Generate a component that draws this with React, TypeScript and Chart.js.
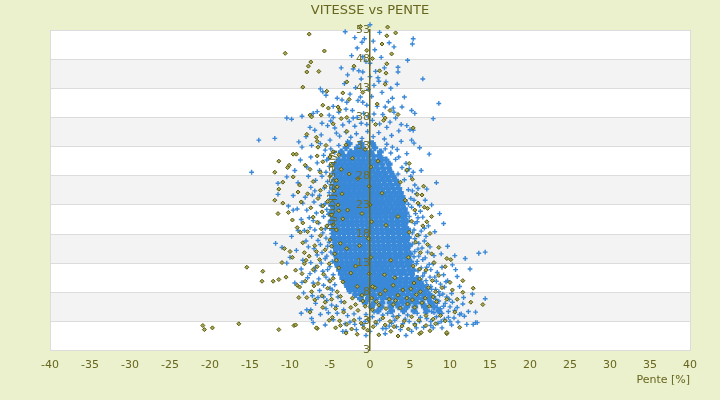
import { useEffect, useRef } from "react";
import Chart from "chart.js/auto";

const OLIVE = "#66661e";
const BLUE = "#3a88d8";

const xTicks = [-40, 40, 5]; // min, max, step
const yRange = [-2, 53, 5];
const yTickLabels = ["3", "3", "8", "13", "18", "23", "28", "33", "38", "43", "48", "53"];

// dense blue core, read row by row: [speed, [slopes...]]
const blueCoreRows: [number, number[]][] = [
  [33.5, [-2.6, -1.1, 0.3]],
  [32.8, [-3.0, -1.6, -0.9, 0.6]],
  [32.1, [-3.6, -2.4, -1.8, -1.2, -0.6, 0.1, 1.3]],
  [31.4, [-3.3, -2.7, -2.1, -1.5, -0.9, -0.3, 0.4, 1.1]],
  [30.7, [-3.9, -3.2, -2.6, -2.0, -1.4, -0.8, -0.2, 0.5, 1.3, 2.0]],
  [30.0, [-4.3, -3.6, -3.0, -2.4, -1.8, -1.2, -0.6, 0.1, 0.7, 1.5, 2.4]],
  [29.3, [-4.0, -3.4, -2.8, -2.2, -1.6, -1.0, -0.4, 0.2, 0.9, 1.6, 2.3]],
  [28.6, [-4.4, -3.7, -3.1, -2.5, -1.9, -1.3, -0.7, -0.1, 0.5, 1.1, 1.8, 2.6]],
  [27.9, [-4.1, -3.5, -2.9, -2.3, -1.7, -1.1, -0.5, 0.1, 0.8, 1.4, 2.1, 2.9]],
  [27.2, [-4.5, -3.8, -3.2, -2.6, -2.0, -1.4, -0.8, -0.2, 0.4, 1.0, 1.7, 2.4, 3.2]],
  [26.5, [-4.2, -3.6, -3.0, -2.4, -1.8, -1.2, -0.6, 0.0, 0.6, 1.2, 1.9, 2.6, 3.4]],
  [25.8, [-4.6, -3.9, -3.3, -2.7, -2.1, -1.5, -0.9, -0.3, 0.3, 0.9, 1.5, 2.2, 2.9, 3.6]],
  [25.1, [-4.3, -3.7, -3.1, -2.5, -1.9, -1.3, -0.7, -0.1, 0.5, 1.1, 1.7, 2.4, 3.1, 3.8]],
  [24.4, [-4.7, -4.0, -3.4, -2.8, -2.2, -1.6, -1.0, -0.4, 0.2, 0.8, 1.4, 2.0, 2.7, 3.4, 4.0]],
  [23.7, [-4.4, -3.8, -3.2, -2.6, -2.0, -1.4, -0.8, -0.2, 0.4, 1.0, 1.6, 2.3, 3.0, 3.7, 4.3]],
  [23.0, [-4.8, -4.1, -3.5, -2.9, -2.3, -1.7, -1.1, -0.5, 0.1, 0.7, 1.3, 1.9, 2.6, 3.3, 4.0]],
  [22.3, [-4.5, -3.9, -3.3, -2.7, -2.1, -1.5, -0.9, -0.3, 0.3, 0.9, 1.5, 2.2, 2.9, 3.6, 4.3]],
  [21.6, [-4.9, -4.2, -3.6, -3.0, -2.4, -1.8, -1.2, -0.6, 0.0, 0.6, 1.2, 1.8, 2.5, 3.2, 3.9, 4.5]],
  [20.9, [-4.6, -4.0, -3.4, -2.8, -2.2, -1.6, -1.0, -0.4, 0.2, 0.8, 1.4, 2.1, 2.8, 3.5, 4.2]],
  [20.2, [-4.8, -4.1, -3.5, -2.9, -2.3, -1.7, -1.1, -0.5, 0.1, 0.7, 1.3, 1.9, 2.6, 3.3, 4.0, 4.6]],
  [19.5, [-4.5, -3.9, -3.3, -2.7, -2.1, -1.5, -0.9, -0.3, 0.3, 0.9, 1.5, 2.2, 2.9, 3.6, 4.3]],
  [18.8, [-4.7, -4.0, -3.4, -2.8, -2.2, -1.6, -1.0, -0.4, 0.2, 0.8, 1.4, 2.0, 2.7, 3.4, 4.1, 4.7]],
  [18.1, [-4.4, -3.8, -3.2, -2.6, -2.0, -1.4, -0.8, -0.2, 0.4, 1.0, 1.6, 2.3, 3.0, 3.7, 4.4]],
  [17.4, [-4.6, -3.9, -3.3, -2.7, -2.1, -1.5, -0.9, -0.3, 0.3, 0.9, 1.5, 2.1, 2.8, 3.5, 4.2, 4.8]],
  [16.7, [-4.3, -3.7, -3.1, -2.5, -1.9, -1.3, -0.7, -0.1, 0.5, 1.1, 1.7, 2.4, 3.1, 3.8, 4.5]],
  [16.0, [-4.5, -3.8, -3.2, -2.6, -2.0, -1.4, -0.8, -0.2, 0.4, 1.0, 1.6, 2.2, 2.9, 3.6, 4.3, 4.9]],
  [15.3, [-4.2, -3.6, -3.0, -2.4, -1.8, -1.2, -0.6, 0.0, 0.6, 1.2, 1.8, 2.5, 3.2, 3.9, 4.6]],
  [14.6, [-4.4, -3.7, -3.1, -2.5, -1.9, -1.3, -0.7, -0.1, 0.5, 1.1, 1.7, 2.3, 3.0, 3.7, 4.4, 5.0]],
  [13.9, [-4.1, -3.5, -2.9, -2.3, -1.7, -1.1, -0.5, 0.1, 0.7, 1.3, 1.9, 2.6, 3.3, 4.0, 4.7]],
  [13.2, [-4.3, -3.6, -3.0, -2.4, -1.8, -1.2, -0.6, 0.0, 0.6, 1.2, 1.8, 2.4, 3.1, 3.8, 4.5, 5.1]],
  [12.5, [-4.0, -3.4, -2.8, -2.2, -1.6, -1.0, -0.4, 0.2, 0.8, 1.4, 2.0, 2.7, 3.4, 4.1, 4.8]],
  [11.8, [-3.8, -3.2, -2.6, -2.0, -1.4, -0.8, -0.2, 0.4, 1.0, 1.6, 2.2, 2.8, 3.5, 4.2, 4.9, 5.4]],
  [11.1, [-3.6, -3.0, -2.4, -1.8, -1.2, -0.6, 0.0, 0.6, 1.2, 1.8, 2.4, 3.1, 3.8, 4.5, 5.2]],
  [10.4, [-3.4, -2.8, -2.2, -1.6, -1.0, -0.4, 0.2, 0.8, 1.4, 2.0, 2.6, 3.2, 3.9, 4.6, 5.3, 5.9]],
  [9.7, [-3.1, -2.5, -1.9, -1.3, -0.7, -0.1, 0.5, 1.1, 1.7, 2.3, 2.9, 3.6, 4.3, 5.0, 5.7, 6.3]],
  [9.0, [-2.8, -2.2, -1.6, -1.0, -0.4, 0.2, 0.8, 1.4, 2.0, 2.6, 3.2, 3.9, 4.6, 5.3, 6.0, 6.6]],
  [8.3, [-2.5, -1.9, -1.3, -0.7, -0.1, 0.5, 1.1, 1.7, 2.3, 2.9, 3.5, 4.2, 4.9, 5.6, 6.3, 7.0]],
  [7.6, [-1.8, -1.0, -0.3, 0.4, 1.2, 1.9, 2.6, 3.3, 4.0, 4.7, 5.4, 6.1, 6.8, 7.4]],
  [6.9, [-1.2, -0.2, 0.7, 1.6, 2.4, 3.1, 3.8, 4.5, 5.2, 5.9, 6.6, 7.3]],
  [6.2, [-0.6, 0.5, 1.5, 2.5, 3.3, 4.1, 4.9, 5.7, 6.5, 7.6]],
  [5.5, [0.2, 1.4, 2.6, 3.6, 4.6, 5.6, 6.8, 8.0]],
  [4.8, [1.0, 2.7, 4.2, 5.5, 7.1, 8.6]],
];

// scattered blue points around the core: [slope, speed]
const blueScatter: [number, number][] = [
  [-3.1, 54.9], [-2.0, 55.4], [0, 53.9], [1.6, 55.1], [2.2, 54.2], [-3.1, 52.7], [5.4, 51.5], [5.3, 50.6],
  [-1.0, 50.9], [-0.7, 51.5], [0.4, 51.1], [-1.6, 49.9], [0, 47.3], [-3.6, 46.5], [-2.1, 46.3], [-1.4, 46.0],
  [-0.9, 45.8], [1.0, 44.8], [1.1, 44.2], [2.0, 44.1], [3.5, 46.6], [3.5, 45.8], [3.4, 43.7], [0.5, 43.5],
  [-6.2, 42.9], [-5.9, 42.4], [-5.5, 41.8], [-4.1, 41.3], [-1.2, 41.5], [-0.9, 40.6], [2.8, 41.3], [4.3, 41.5],
  [-0.4, 40.1], [0.9, 39.9], [-2.2, 39.2], [-1.6, 38.0], [0.5, 38.6], [4.0, 39.8], [5.2, 39.2], [5.6, 38.7],
  [-10.4, 37.9], [-9.8, 37.7], [-8.5, 38.2], [-7.5, 36.3], [-6.0, 37.0], [-4.6, 38.0], [2.5, 37.2], [2.1, 36.3],
  [-2.9, 40.6], [-4.6, 39.9], [-7.1, 38.7], [-5.1, 38.4], [-4.2, 35.3], [-13.9, 34.1], [-11.9, 34.4], [-14.8, 28.6],
  [-8.5, 32.9], [-7.4, 31.2], [-8.7, 30.7], [-9.4, 28.9], [-10.4, 27.8], [-11.5, 26.7], [-11.5, 24.8], [-10.2, 22.8],
  [-9.6, 22.1], [-9.1, 22.3], [-8.4, 23.3], [-7.5, 19.1], [-9.0, 18.6], [-11.8, 16.4], [-11.0, 15.7], [-10.4, 13.0],
  [-10.0, 14.0], [-8.4, 13.5], [-8.5, 9.7], [-7.5, 11.2], [-6.5, 7.1], [-7.9, 5.0], [-7.4, 5.0], [-7.3, 3.5],
  [-7.1, 2.8], [-5.4, 6.6], [-5.0, 8.7], [-5.5, 10.6], [-6.8, 12.3], [-6.0, 14.8], [-6.5, 16.9], [-7.1, 20.3],
  [-7.4, 26.0], [-6.8, 27.2], [-6.3, 28.9], [-5.4, 30.7], [-5.6, 32.4], [-5.0, 34.1], [-3.4, 1.3], [-3.0, 1.3],
  [-3.1, 2.6], [-4.1, 4.4], [-5.2, 4.5],
  [-6.2, 33.5], [-5.8, 31.5], [-6.6, 30.2], [-5.1, 29.6], [-6.0, 27.9], [-5.3, 27.0], [-6.9, 25.4], [-5.7, 25.9],
  [-6.3, 24.6], [-5.0, 24.0], [-7.0, 23.5], [-6.1, 22.9], [-5.4, 22.2], [-6.7, 21.6], [-5.8, 21.0], [-7.6, 20.8],
  [-6.4, 19.9], [-5.2, 19.6], [-6.9, 18.7], [-5.9, 18.2], [-7.3, 17.6], [-5.5, 17.3], [-6.2, 16.2], [-7.0, 15.5],
  [-5.3, 15.9], [-6.6, 14.4], [-5.6, 13.8], [-7.4, 13.1], [-6.1, 13.0], [-5.0, 12.4], [-6.9, 11.7], [-5.9, 11.6],
  [-6.4, 10.3], [-7.1, 9.6], [-5.8, 9.2], [-6.3, 8.3], [-4.9, 7.6], [-5.8, 7.2], [-6.8, 6.1], [-4.8, 5.8],
  [-5.5, 5.2], [-6.2, 4.2], [-4.6, 3.3], [-5.6, 2.4], [-8.1, 24.3], [-8.6, 20.5], [-8.0, 16.8], [-9.2, 15.2],
  [-7.8, 10.5], [-8.3, 7.9], [-9.0, 26.8], [-7.9, 29.5], [-8.0, 34.7], [-6.9, 35.8], [-5.3, 36.6], [-6.6, 39.0],
  [-3.8, 34.8], [-3.0, 35.5], [-2.4, 34.6], [-1.7, 35.2], [-1.0, 34.4], [-0.3, 35.6], [0.4, 34.7], [1.1, 35.4],
  [1.8, 34.3], [2.7, 34.9], [3.6, 35.7], [-3.4, 36.7], [-2.6, 37.3], [-1.9, 36.5], [-1.1, 37.0], [-0.4, 36.8],
  [0.3, 37.5], [1.2, 36.9], [3.2, 37.9], [-3.9, 38.9], [-3.0, 39.4], [-0.8, 38.7], [1.6, 38.5], [3.0, 38.9],
  [-2.5, 42.0], [-1.8, 43.1], [-0.2, 42.8], [1.5, 42.3], [2.6, 43.0], [-3.2, 43.8], [-1.1, 44.6], [0.7, 45.9],
  [-0.5, 47.6], [1.4, 48.3], [-2.3, 48.6], [2.9, 39.6], [4.6, 36.6], [-4.4, 36.2], [0.0, 33.8], [-2.8, 33.9],
  [3.9, 33.9], [2.8, 32.9], [2.1, 33.4], [3.4, 32.5], [3.6, 31.2], [4.5, 30.1], [5.1, 27.9], [4.6, 28.8],
  [7.1, 25.7], [6.9, 23.8], [8.7, 21.5], [6.0, 20.8], [6.6, 20.9], [5.6, 19.8], [6.4, 18.5], [6.1, 16.4],
  [10.6, 14.3], [11.9, 13.8], [13.6, 14.7], [14.4, 14.9], [10.7, 11.9], [10.9, 10.7], [9.0, 12.3], [9.7, 10.0],
  [10.2, 7.8], [11.7, 7.1], [14.4, 6.9], [10.9, 5.4], [11.2, 4.2], [12.1, 2.5], [12.9, 2.5], [13.2, 2.8],
  [9.0, 1.9], [7.6, 2.3], [7.1, 3.5], [8.4, 6.1], [8.7, 7.5], [7.7, 8.5], [7.5, 10.6], [7.1, 12.3],
  [6.6, 13.6], [7.2, 14.9], [5.2, 34.1], [5.5, 33.6], [5.4, 35.8], [5.0, 35.9], [11.4, 4.3], [13.4, 2.8],
  [3.2, 30.8], [4.0, 29.4], [3.5, 28.3], [4.3, 27.3], [5.6, 26.4], [4.8, 25.6], [5.8, 24.9], [5.1, 24.1],
  [6.2, 22.9], [5.2, 22.6], [5.7, 21.5], [7.3, 19.4], [5.5, 18.7], [7.0, 17.6], [5.6, 17.2], [6.5, 15.6],
  [5.6, 15.0], [8.0, 14.3], [6.1, 14.2], [5.8, 12.9], [7.9, 12.9], [6.4, 12.2], [8.4, 11.4], [6.8, 11.3],
  [9.2, 11.0], [6.3, 10.2], [8.3, 9.9], [7.1, 9.3], [9.3, 8.9], [8.2, 8.5], [6.7, 7.9], [9.6, 7.2],
  [8.0, 7.3], [7.9, 6.2], [9.4, 6.1], [10.3, 6.3], [7.0, 5.7], [8.8, 5.2], [9.8, 4.7], [8.0, 4.5],
  [10.5, 3.6], [9.3, 3.4], [6.3, 3.7], [7.6, 3.0], [8.5, 2.7], [10.2, 2.4], [6.7, 2.0], [11.0, 2.9],
  [1.6, 1.8], [2.0, 1.8], [1.2, 3.2], [4.1, 2.6], [5.6, 2.6], [3.1, 3.2], [-2.0, 4.3], [-1.3, 3.5],
  [-0.5, 4.2], [0.3, 3.8], [2.2, 4.4], [3.6, 4.0], [4.7, 4.1], [5.9, 4.4], [-2.5, 2.9], [-0.9, 2.4],
  [0.0, 1.3], [2.7, 2.7], [3.8, 1.6], [5.2, 1.3], [6.2, 3.0], [-1.7, 1.6], [0.8, 2.6], [4.4, 3.4],
  [-4.9, 32.6], [-5.2, 31.0], [-4.7, 28.4], [-5.5, 28.6], [-4.9, 26.5], [-5.1, 25.1], [-5.6, 23.2], [-4.9, 22.8],
  [-5.2, 21.4], [-5.0, 20.2], [-5.6, 18.9], [-4.8, 18.1], [-5.1, 16.6], [-4.9, 14.9], [-5.4, 14.2], [-4.7, 13.3],
  [-5.3, 11.9], [-4.6, 11.0], [-5.1, 10.1], [-4.4, 9.3], [-4.7, 8.4], [-4.0, 7.2], [-3.6, 6.4], [-4.2, 5.6],
  [-3.3, 5.0], [-7.7, 27.9], [-7.2, 24.7], [-7.9, 22.1], [-8.2, 18.6], [-7.7, 15.8], [-8.6, 12.0], [-7.2, 7.4],
  [-8.6, 4.4], [-9.4, 9.6], [-9.8, 17.6], [-9.6, 24.6], [-8.9, 33.8], [-6.1, 35.0], [-7.3, 33.2],
  [4.6, 31.8], [4.9, 29.2], [5.4, 28.6], [5.3, 25.4], [6.0, 25.8], [5.5, 23.8], [4.8, 23.1], [6.3, 21.9],
  [4.9, 21.0], [5.9, 20.1], [6.8, 19.0], [5.3, 18.2], [6.1, 17.8], [6.8, 16.8], [5.3, 16.3], [6.0, 15.4],
  [7.5, 15.8], [5.5, 14.1], [6.9, 13.9], [5.9, 13.3], [7.4, 12.8], [6.0, 11.7], [7.6, 11.9], [6.6, 10.8],
  [8.1, 10.6], [7.0, 10.0], [8.8, 9.4], [7.6, 9.0], [6.2, 8.9], [8.6, 8.1], [7.5, 7.6], [9.1, 7.7],
  [8.2, 6.8], [9.9, 6.8], [8.6, 6.5], [7.5, 6.5], [9.2, 5.6], [8.4, 5.4], [10.0, 5.5], [7.7, 4.7],
  [9.0, 4.4], [10.6, 4.9], [8.3, 3.8], [9.8, 3.7], [11.8, 3.9], [8.9, 3.0], [10.0, 3.0], [12.3, 4.7],
  [11.6, 6.0], [12.8, 7.7], [13.2, 4.6], [9.5, 9.8], [10.3, 12.7], [11.2, 9.0], [12.5, 12.0], [8.9, 14.6],
  [9.7, 15.9], [8.1, 18.4], [9.2, 19.8], [7.7, 23.0], [8.3, 26.8], [6.4, 28.9], [7.4, 31.7], [6.2, 32.8],
  [7.9, 37.8], [8.6, 40.4], [6.6, 44.6], [4.7, 47.8], [3.0, 50.1],
  [-2.1, 37.9], [-0.2, 38.1], [1.9, 39.8], [-1.5, 40.9], [0.2, 41.6], [2.3, 40.7], [-3.5, 41.0], [-2.8, 45.3],
  [0.0, 45.0], [1.8, 46.5], [-0.9, 48.4], [0.6, 49.6], [-1.9, 51.7], [1.2, 52.6], [-0.3, 54.6], [3.9, 36.8],
  [-4.9, 37.4], [2.4, 50.8],
  [-2.8, 4.0], [-1.9, 2.5], [-0.6, 3.0], [0.5, 4.6], [1.6, 4.1], [2.9, 3.9], [3.3, 2.1], [4.9, 3.0],
  [5.8, 1.9], [6.9, 4.5], [7.9, 1.9], [1.9, 0.9], [-0.5, 0.6], [4.5, 0.6], [2.4, 2.2],
  [-3.9, 33.2], [1.9, 32.6], [2.6, 31.9], [-4.4, 32.0], [1.6, 31.1],
];

// olive series: [slope, speed]
const olivePoints: [number, number][] = [
  [0.9, 57.0], [2.6, 55.4], [0.9, 54.2], [2.2, 53.5], [3.2, 52.5], [-7.6, 52.3], [-10.6, 49.0], [-5.7, 49.4],
  [2.1, 52.0], [2.7, 48.9], [-7.4, 47.5], [-7.7, 46.8], [-7.9, 45.8], [-8.4, 43.2], [-2.9, 44.1], [1.2, 46.0],
  [2.1, 47.2], [2.0, 45.6], [1.9, 43.7], [-5.4, 42.5], [-3.4, 42.2], [-2.6, 41.1], [-0.9, 42.3], [-5.9, 40.1],
  [-4.0, 39.8], [-3.8, 39.3], [-2.9, 38.0], [2.5, 39.2], [1.9, 37.9], [5.4, 36.2], [-7.5, 38.4], [-7.3, 38.1],
  [0.9, 40.3], [1.7, 37.5], [-5.2, 39.6], [-0.4, 49.5], [1.5, 50.6], [-1.2, 53.6], [0.3, 48.1],
  [-7.9, 35.1], [-6.7, 34.6], [-6.6, 33.9], [-6.5, 32.9], [-9.6, 31.7], [-9.2, 31.7], [-11.4, 30.5], [-10.1, 29.8],
  [-10.3, 29.4], [-11.9, 28.6], [-9.6, 27.8], [-10.9, 26.9], [-11.4, 25.7], [-11.9, 23.8], [-10.9, 23.3], [-11.5, 21.5],
  [-10.2, 21.7], [-9.0, 25.2], [-8.8, 26.4], [-9.1, 19.1], [-8.7, 18.3], [-10.7, 15.5], [-10.0, 15.0], [-9.7, 14.0],
  [-11.0, 13.1], [-15.4, 12.3], [-13.4, 11.6], [-13.5, 9.9], [-12.1, 9.9], [-11.4, 10.2], [-10.5, 10.6], [-9.1, 9.2],
  [-8.8, 8.9], [-8.9, 7.1], [-7.9, 7.1], [-8.0, 13.5], [-8.2, 12.9], [-16.4, 2.6], [-11.4, 1.6], [-9.5, 2.3],
  [-9.3, 2.4], [-5.9, 5.4], [-6.6, 1.8], [-4.7, 3.7], [-20.9, 2.3], [-20.7, 1.6], [-19.7, 1.9], [-6.7, 1.9],
  [-3.7, 2.3],
  [-5.5, 33.2], [-4.6, 32.1], [-3.9, 31.6], [-5.9, 30.4], [-4.8, 29.8], [-3.6, 29.1], [-6.2, 28.6], [-5.0, 27.9],
  [-4.2, 27.2], [-7.1, 27.0], [-5.6, 26.2], [-4.5, 25.4], [-3.5, 24.9], [-6.5, 24.1], [-5.3, 23.6], [-4.0, 23.0],
  [-7.4, 22.5], [-6.0, 21.8], [-4.8, 21.3], [-3.4, 20.6], [-6.6, 20.0], [-5.4, 19.4], [-4.2, 18.7], [-7.8, 18.4],
  [-6.2, 17.7], [-5.0, 17.0], [-3.7, 16.4], [-6.9, 16.0], [-5.6, 15.3], [-4.4, 14.6], [-7.6, 14.2], [-6.3, 13.6],
  [-5.1, 12.9], [-3.9, 12.2], [-7.1, 11.9], [-5.8, 11.1], [-4.6, 10.4], [-3.4, 9.8], [-6.5, 9.5], [-5.3, 8.7],
  [-4.1, 8.1], [-7.3, 8.1], [-6.0, 7.4], [-4.8, 6.8], [-3.2, 6.3], [-2.6, 28.3], [-2.8, 22.1], [-2.9, 15.5],
  [-2.4, 11.3], [-3.0, 33.3], [-2.2, 31.0], [-9.7, 20.4], [-8.4, 16.5], [-9.3, 11.8], [-8.6, 23.5], [-8.1, 29.8],
  [-4.3, 5.2], [-3.3, 4.6], [-2.4, 5.4], [-1.5, 4.9], [-0.6, 5.6], [0.3, 5.0], [1.1, 5.8], [2.0, 5.2],
  [2.9, 5.9], [3.8, 5.3], [4.7, 6.0], [5.6, 5.4], [6.5, 6.2], [7.4, 5.6], [8.3, 6.4], [-3.8, 3.1],
  [-2.9, 2.5], [-2.0, 3.2], [-1.1, 2.7], [-0.2, 3.4], [0.7, 2.9], [1.6, 3.6], [2.5, 3.0], [3.4, 3.7],
  [4.3, 3.1], [5.2, 3.8], [6.1, 3.2], [7.0, 4.0], [7.9, 3.4], [8.8, 4.0], [-3.0, 1.0], [-1.6, 0.8],
  [-0.3, 1.5], [1.1, 0.7], [2.6, 1.3], [3.5, 0.5], [4.8, 1.7], [6.2, 0.9], [7.5, 1.4], [9.6, 0.9],
  [6.4, 1.1], [-2.2, 7.0], [-1.0, 7.5], [0.2, 7.0], [1.3, 7.7], [2.4, 6.8], [3.5, 7.5], [4.6, 7.0],
  [5.8, 7.6], [6.9, 7.0], [-1.6, 9.0], [0.6, 8.8], [2.9, 9.2], [5.1, 8.6], [7.3, 8.8], [9.0, 8.8],
  [11.6, 8.0], [12.6, 6.3], [14.1, 5.9], [10.9, 6.8], [9.6, 1.1], [10.6, 4.6], [11.6, 10.0], [10.0, 9.7],
  [4.9, 30.1], [4.6, 29.0], [6.7, 26.2], [6.0, 23.3], [7.2, 22.4], [7.7, 21.0], [6.8, 22.6], [7.5, 18.1],
  [8.6, 15.7], [9.6, 13.8], [10.1, 13.6], [5.3, 27.4], [5.9, 24.8], [5.2, 20.2], [6.6, 19.4], [5.7, 16.6],
  [7.2, 16.2], [6.3, 14.8], [8.0, 13.1], [5.4, 12.5], [7.0, 11.8], [8.6, 10.9], [6.2, 10.3], [7.8, 10.0],
  [5.5, 9.6], [9.4, 12.4], [4.8, 14.0], [4.9, 18.3], [4.4, 23.8], [3.8, 26.9],
  [0.1, 29.5], [-0.1, 26.2], [0.0, 23.0], [0.2, 20.1], [-0.2, 17.2], [0.1, 14.0], [-0.1, 11.2], [0.3, 9.0],
  [-1.5, 27.5], [-1.0, 21.5], [-1.3, 16.0], [-1.8, 12.5], [1.5, 25.0], [2.0, 19.5], [2.6, 13.5], [3.1, 10.5],
  [1.0, 30.5], [3.5, 21.0], [-0.6, 32.5], [1.8, 11.0],
  [-6.6, 31.4], [-5.0, 31.2], [-7.5, 29.1], [-4.1, 26.1], [-6.2, 25.5], [-7.8, 24.9], [-3.9, 22.0], [-5.9, 22.8],
  [-7.1, 20.9], [-4.6, 19.6], [-6.1, 18.9], [-8.4, 19.9], [-4.8, 15.9], [-6.7, 15.0], [-8.2, 14.8], [-4.2, 13.5],
  [-6.6, 12.4], [-8.5, 11.2], [-5.0, 9.9], [-7.0, 9.1], [-8.1, 9.9], [-3.7, 7.3], [-5.6, 6.3], [-6.9, 6.7],
  [-7.5, 4.6], [-5.1, 3.2], [-4.3, 1.9], [-2.3, 1.7], [-0.8, 1.9], [0.4, 2.1], [1.9, 2.4], [3.0, 2.1],
  [4.0, 2.2], [5.6, 2.4], [7.0, 2.3], [8.2, 2.6], [-1.8, 5.9], [0.8, 6.4], [3.2, 6.6], [5.3, 6.7],
  [7.9, 7.2], [-0.9, 6.5], [1.9, 8.3], [4.1, 8.4], [6.3, 8.1], [8.2, 8.1], [9.6, 6.8], [10.3, 8.4],
  [9.4, 3.1], [11.2, 2.0], [12.9, 8.7], [6.2, 12.0], [7.7, 14.6], [5.9, 17.8], [7.1, 20.1], [5.6, 22.1],
  [6.5, 24.7], [-2.9, 35.6], [-4.6, 36.9], [-6.1, 38.4], [-3.6, 37.8], [0.7, 36.8], [3.5, 38.5], [-2.0, 46.8],
  [-6.4, 45.9],
];

const bandsPlugin = {
  id: "bands",
  beforeDraw(chart: Chart) {
    const { ctx, chartArea } = chart;
    const yScale = chart.scales.y;
    const ticks = yScale.ticks;
    ctx.save();
    ctx.fillStyle = "#ffffff";
    ctx.fillRect(chartArea.left, chartArea.top, chartArea.width, chartArea.height);
    ctx.fillStyle = "#f3f3f3";
    for (let i = 0; i < ticks.length - 1; i++) {
      if ((ticks.length - 2 - i) % 2 === 1) {
        const y1 = yScale.getPixelForValue(ticks[i + 1].value);
        const y0 = yScale.getPixelForValue(ticks[i].value);
        ctx.fillRect(chartArea.left, y1, chartArea.width, y0 - y1);
      }
    }
    ctx.restore();
  },
};

export default function App() {
  const canvasRef = useRef<HTMLCanvasElement>(null);

  useEffect(() => {
    document.body.style.margin = "0";
    document.body.style.background = "#ebf0cd";
    if (!canvasRef.current) return;

    Chart.defaults.font.family = "'DejaVu Sans', Verdana, sans-serif";

    const chart = new Chart(canvasRef.current, {
      type: "scatter",
      data: {
        datasets: [
          {
            label: "olive",
            data: olivePoints.map(([x, y]) => ({ x, y })),
            pointStyle: "rectRot",
            pointRadius: 2,
            borderWidth: 1,
            borderColor: "#58580a",
            backgroundColor: "#a9a95e",
            clip: false,
          },
          {
            label: "blue",
            data: blueScatter.map(([x, y]) => ({ x, y })),
            pointStyle: "cross",
            pointRadius: 2.4,
            borderWidth: 1.4,
            borderColor: BLUE,
            backgroundColor: BLUE,
            clip: false,
          },
          {
            label: "blue core",
            data: blueCoreRows.flatMap(([y, xs]) => xs.map((x) => ({ x, y }))),
            pointStyle: "cross",
            pointRadius: 3.4,
            borderWidth: 3.2,
            borderColor: BLUE,
            backgroundColor: BLUE,
            clip: false,
          },
        ],
      },
      plugins: [bandsPlugin],
      options: {
        animation: false,
        responsive: true,
        maintainAspectRatio: false,
        layout: { padding: { left: 50, right: 30, top: 0, bottom: 11 } },
        plugins: {
          legend: { display: false },
          tooltip: { enabled: false },
          title: {
            display: true,
            text: "VITESSE vs PENTE",
            color: OLIVE,
            font: { size: 13, weight: "normal" },
            padding: { top: 3, bottom: 11.4 },
          },
        },
        scales: {
          x: {
            type: "linear",
            min: xTicks[0],
            max: xTicks[1],
            ticks: { stepSize: xTicks[2], color: OLIVE, font: { size: 11 }, padding: 8 },
            grid: {
              drawTicks: false,
              color: (c) =>
                c.tick && (c.tick.value === xTicks[0] || c.tick.value === xTicks[1])
                  ? "#dcdcdc"
                  : "transparent",
            },
            border: { color: "#dcdcdc" },
            title: {
              display: true,
              text: "Pente [%]",
              align: "end",
              color: OLIVE,
              font: { size: 11 },
              padding: { top: -6, bottom: 2 },
            },
          },
          y: {
            type: "linear",
            position: { x: 0 },
            min: yRange[0],
            max: yRange[1],
            ticks: { stepSize: yRange[2], display: false },
            grid: { color: "#dcdcdc", drawTicks: false, z: -1 },
            border: { display: false },
          },
          yAxis: {
            type: "linear",
            axis: "y",
            position: { x: 0 },
            min: yRange[0],
            max: yRange[1],
            ticks: {
              stepSize: yRange[2],
              color: "#6e6e30",
              font: { size: 11 },
              padding: 7,
              z: 1,
              callback: (_v, i) => yTickLabels[i],
            },
            grid: { display: false, drawTicks: false, z: 1 },
            border: { color: OLIVE, width: 1.5, z: 1 },
            title: {
              display: true,
              text: "Vitesse [km/h]",
              color: OLIVE,
              font: { size: 11 },
            },
          },
        },
      },
    });

    return () => chart.destroy();
  }, []);

  return (
    <div style={{ width: 720, height: 400, position: "relative" }}>
      <canvas ref={canvasRef} />
    </div>
  );
}
